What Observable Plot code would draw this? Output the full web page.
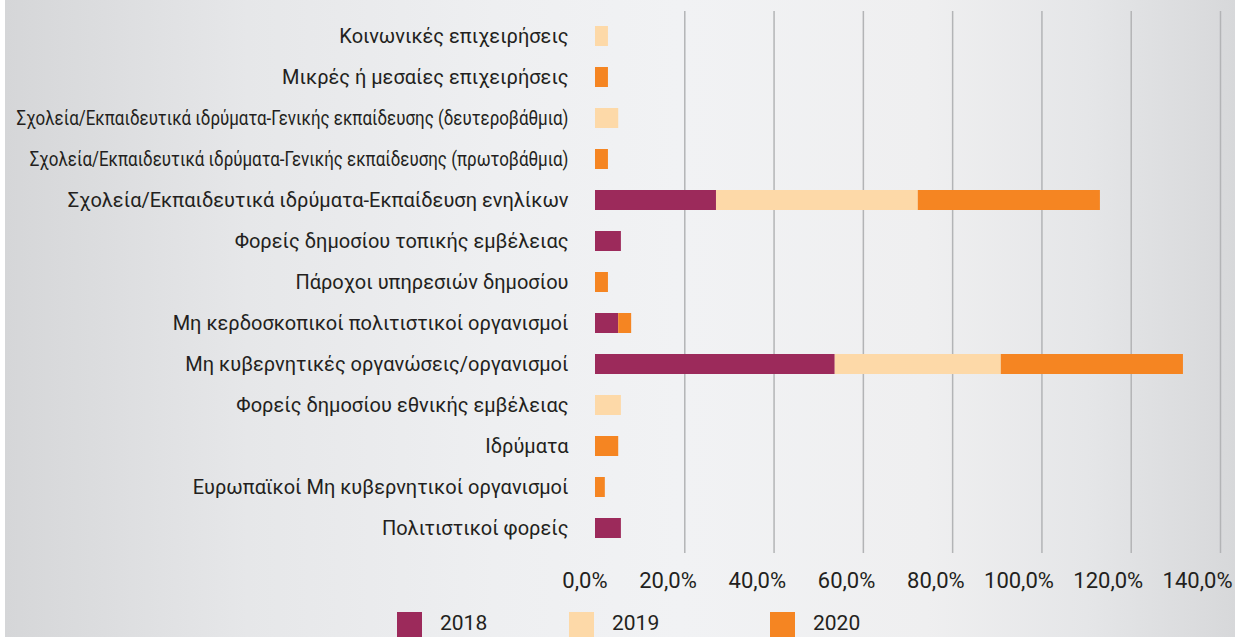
<!DOCTYPE html>
<html>
<head>
<meta charset="utf-8">
<script src="https://cdn.jsdelivr.net/npm/d3@7"></script>
<script src="https://cdn.jsdelivr.net/npm/@observablehq/plot@0.6"></script>
<style>
  html, body { margin: 0; padding: 0; }
  body {
    width: 1235px; height: 637px; overflow: hidden; position: relative;
    background: linear-gradient(to right, #ffffff 0px, #ffffff 5px, #d5d6d8 5px, #e6e7e9 20%, #eeeff1 40%, #f1f2f4 55%, #efeff0 75%, #e5e6e8 88%, #d7d8da 100%);
    font-family: "Roboto", "Noto Sans", sans-serif;
    color: #231f20;
  }
  #chart { position: absolute; left: 0; top: 0; }
  #legend { position: absolute; top: 612px; left: 0; width: 1235px; height: 30px; }
  .item { position: absolute; top: 0; display: flex; align-items: flex-start; }
  .sw { width: 25px; height: 25px; }
  .lb { font-size: 21px; margin-left: 18px; line-height: 22px; }
</style>
</head>
<body>
<div id="chart"></div>
<div id="legend"></div>
<script>
const categories = [
  "Κοινωνικές επιχειρήσεις",
  "Μικρές ή μεσαίες επιχειρήσεις",
  "Σχολεία/Εκπαιδευτικά ιδρύματα-Γενικής εκπαίδευσης (δευτεροβάθμια)",
  "Σχολεία/Εκπαιδευτικά ιδρύματα-Γενικής εκπαίδευσης (πρωτοβάθμια)",
  "Σχολεία/Εκπαιδευτικά ιδρύματα-Εκπαίδευση ενηλίκων",
  "Φορείς δημοσίου τοπικής εμβέλειας",
  "Πάροχοι υπηρεσιών δημοσίου",
  "Μη κερδοσκοπικοί πολιτιστικοί οργανισμοί",
  "Μη κυβερνητικές οργανώσεις/οργανισμοί",
  "Φορείς δημοσίου εθνικής εμβέλειας",
  "Ιδρύματα",
  "Ευρωπαϊκοί Μη κυβερνητικοί οργανισμοί",
  "Πολιτιστικοί φορείς"
];
const years = ["2018", "2019", "2020"];
const v2018 = [0, 0, 0, 0, 27.1, 5.8, 0, 5.2, 53.7, 0, 0, 0, 5.8];
const v2019 = [2.9, 0, 5.2, 0, 45.2, 0, 0, 0, 37.2, 5.8, 0, 0, 0];
const v2020 = [0, 2.9, 0, 2.9, 40.8, 0, 2.9, 2.9, 40.8, 0, 5.2, 2.2, 0];
const xTicks = [0, 20, 40, 60, 80, 100, 120, 140];
const colors = ["#9c2a5b", "#fdd9a8", "#f58522"];

const series = [v2018, v2019, v2020];
const data = [];
years.forEach((yr, i) => categories.forEach((c, j) => {
  if (series[i][j] > 0) data.push({cat: c, year: yr, value: series[i][j]});
}));

const fmt = d => d.toFixed(1).replace(".", ",") + "%";

const chart = Plot.plot({
  width: 1235,
  height: 600,
  marginLeft: 595,
  marginRight: 15,
  marginTop: 11,
  marginBottom: 47,
  style: {background: "transparent", fontFamily: "Roboto, 'Noto Sans', sans-serif", color: "#231f20"},
  x: {domain: [0, 140], ticks: xTicks},
  y: {domain: categories, paddingInner: 0.52, paddingOuter: 0.26},
  color: {domain: years, range: colors},
  marks: [
    Plot.ruleX(xTicks.filter(d => d > 0), {stroke: "#b3b4b6", strokeWidth: 1.5}),
    Plot.barX(data, Plot.stackX({x: "value", y: "cat", fill: "year", order: years})),
    Plot.axisY({tickSize: 0, tickPadding: 27, fontSize: 20, label: null}),
    Plot.axisX(xTicks, {tickSize: 0, tickPadding: 19, fontSize: 22, label: null, tickFormat: fmt, textAnchor: "end", dx: 12})
  ]
});
document.getElementById("chart").appendChild(chart);

// compress over-long category labels horizontally, as in the original
const maxW = 552;
const yTexts = Array.from(chart.querySelectorAll('g[aria-label="y-axis tick label"] text'));
const lens = yTexts.map(t => t.getComputedTextLength());
const longest = Math.max(...lens);
if (longest > maxW) {
  const k = maxW / longest;
  yTexts.forEach((t, i) => {
    if (lens[i] > maxW * 0.97) {
      t.setAttribute("textLength", (lens[i] * k).toFixed(1));
      t.setAttribute("lengthAdjust", "spacingAndGlyphs");
    }
  });
}

const legend = document.getElementById("legend");
const legendX = [397, 569, 770];
years.forEach((yr, i) => {
  const it = document.createElement("div");
  it.className = "item";
  it.style.left = legendX[i] + "px";
  it.innerHTML = `<div class="sw" style="background:${colors[i]}"></div><div class="lb">${yr}</div>`;
  legend.appendChild(it);
});
</script>
</body>
</html>
